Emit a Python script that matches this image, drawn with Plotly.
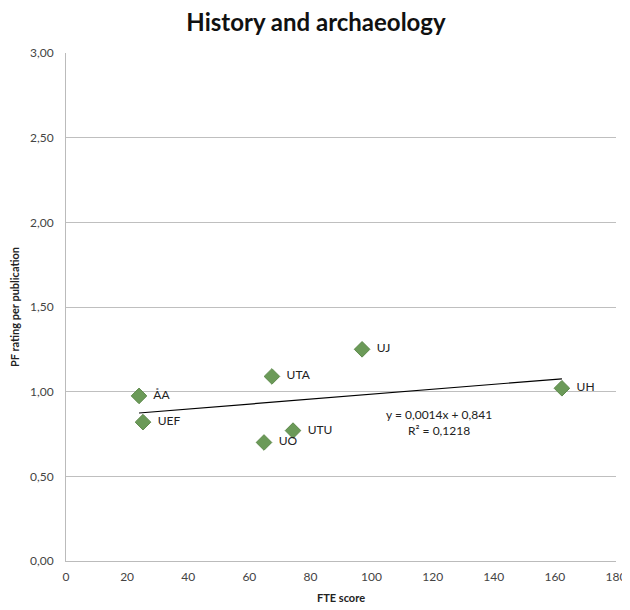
import numpy as np
import plotly.graph_objects as go

units = ["ÅA", "UEF", "UTA", "UO", "UTU", "UJ", "UH"]
fte_score = [23.9, 25.2, 67.4, 64.8, 74.3, 96.9, 162.3]
pf_rating = [0.975, 0.82, 1.09, 0.70, 0.77, 1.25, 1.02]

y_ticks = [0, 0.5, 1.0, 1.5, 2.0, 2.5, 3.0]
y_tick_labels = ["0,00", "0,50", "1,00", "1,50", "2,00", "2,50", "3,00"]
x_ticks = [0, 20, 40, 60, 80, 100, 120, 140, 160, 180]

slope, intercept = np.polyfit(fte_score, pf_rating, 1)
x_fit = np.array([min(fte_score), max(fte_score)])
y_fit = slope * x_fit + intercept

font = "Lato, 'Open Sans', sans-serif"
fig = go.Figure()
fig.add_trace(go.Scatter(x=x_fit, y=y_fit, mode="lines",
                         line=dict(color="black", width=1.2), hoverinfo="skip",
                         showlegend=False))
fig.add_trace(go.Scatter(x=fte_score, y=pf_rating, mode="markers+text",
                         text=["  " + u for u in units], textposition="middle right",
                         textfont=dict(size=12, color="#222", family=font),
                         marker=dict(symbol="diamond", size=12, color="#6B9A58",
                                     line=dict(color="#5E8A4C", width=1)),
                         showlegend=False))

fig.add_annotation(x=122, y=0.82, xref="x", yref="y", showarrow=False,
                   text="y = 0,0014x + 0,841<br>R² = 0,1218",
                   font=dict(size=12, color="#222", family=font), align="center")

W, H = 622, 602
fig.update_layout(
    width=W, height=H,
    margin=dict(l=58, r=14, t=45, b=49),
    paper_bgcolor="white", plot_bgcolor="white",
    title=dict(text="<b>History and archaeology</b>", x=308 / W, xanchor="center",
               y=1 - 15 / H, yanchor="middle",
               font=dict(size=24, color="#111", family=font)),
    font=dict(family=font, color="#333"),
)
fig.update_xaxes(range=[0, 180], tickvals=x_ticks, showgrid=False, automargin=False,
                 showline=True, linecolor="#BBBBBB", linewidth=1, zeroline=False,
                 ticks="", ticklabelstandoff=5, tickfont=dict(size=12, color="#444"),
                 title=dict(text="<b>FTE score</b>", font=dict(size=11, color="#222"),
                            standoff=10))
fig.update_yaxes(range=[0, 3], tickvals=y_ticks, ticktext=y_tick_labels, automargin=False,
                 showgrid=True, gridcolor="#BFBFBF", gridwidth=1,
                 showline=True, linecolor="#BBBBBB", linewidth=1, zeroline=False,
                 ticks="", ticklabelstandoff=9, tickfont=dict(size=12, color="#444"),
                 title=dict(text="<b>PF rating per publication</b>",
                            font=dict(size=11, color="#222"), standoff=12))

fig.write_html("out.html")
